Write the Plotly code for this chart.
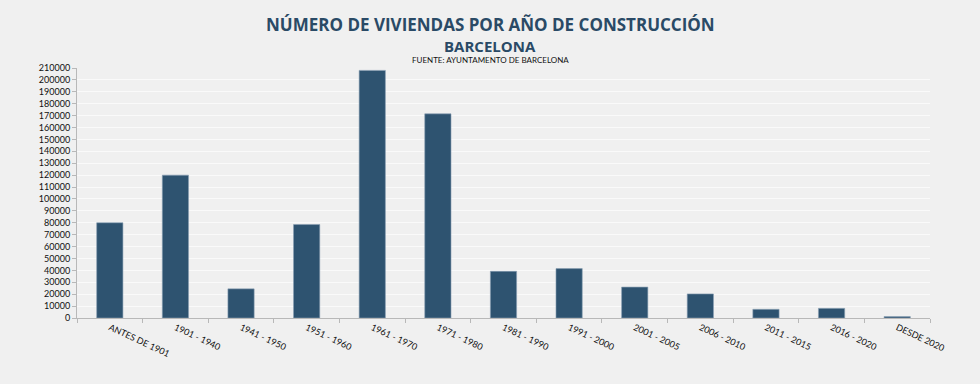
import plotly.graph_objects as go

categories = ["ANTES DE 1901", "1901 - 1940", "1941 - 1950", "1951 - 1960", "1961 - 1970",
              "1971 - 1980", "1981 - 1990", "1991 - 2000", "2001 - 2005", "2006 - 2010",
              "2011 - 2015", "2016 - 2020", "DESDE 2020"]
viviendas = [80000, 120000, 24500, 78500, 208000, 171500, 39200, 41500, 26000, 20200, 7300, 8100, 1200]
y_ticks = list(range(0, 210001, 10000))

W, H = 980, 384
L, R, T, B = 77, 50, 68, 66

fig = go.Figure(go.Bar(
    x=categories, y=viviendas,
    marker=dict(color="#2e5370", line=dict(color="#8aa0b3", width=0.6)),
    width=0.4,
))

title_color = "#2a4a66"
pw, ph = W - L - R, H - T - B

def px_to_paper(xp, yp):
    return (xp - L) / pw, (H - B - yp) / ph

for text, yp, fam, size, col in [
    ("<b>NÚMERO DE VIVIENDAS POR AÑO DE CONSTRUCCIÓN</b>", 24, "Open Sans", 17, title_color),
    ("<b>BARCELONA</b>", 46.5, "Open Sans", 15, title_color),
    ("FUENTE: AYUNTAMENTO DE BARCELONA", 60.5, "Lato", 8, "#111111"),
]:
    xa, ya = px_to_paper(490, yp)
    fig.add_annotation(text=text, xref="paper", yref="paper", x=xa, y=ya,
                       xanchor="center", yanchor="middle", showarrow=False,
                       font=dict(family=fam, size=size, color=col))

fig.update_layout(
    width=W, height=H,
    margin=dict(l=L, r=R, t=T, b=B),
    paper_bgcolor="#f0f0f0", plot_bgcolor="#f0f0f0",
    showlegend=False,
    font=dict(family="Lato", size=9, color="#111111"),
    xaxis=dict(
        type="category", range=[-0.5, 12.5], tickangle=25,
        showline=True, linecolor="#b8b8b8", linewidth=1,
        ticks="outside", tickson="boundaries", ticklen=4, tickcolor="#b8b8b8",
        showgrid=False, tickfont=dict(family="Lato", size=9, color="#111111"),
    ),
    yaxis=dict(
        range=[0, 210000], tickvals=y_ticks, ticktext=[str(v) for v in y_ticks],
        showline=True, linecolor="#b8b8b8", linewidth=1,
        ticks="outside", ticklen=4, tickcolor="#b8b8b8",
        showgrid=True, gridcolor="#fafafa", gridwidth=1, zeroline=False,
        tickfont=dict(family="Lato", size=9, color="#111111"),
    ),
)

fig.write_html(
    "out.html",
    config={"displayModeBar": False},
    post_script="document.body.style.margin='0';document.body.style.background='#f0f0f0';",
)
